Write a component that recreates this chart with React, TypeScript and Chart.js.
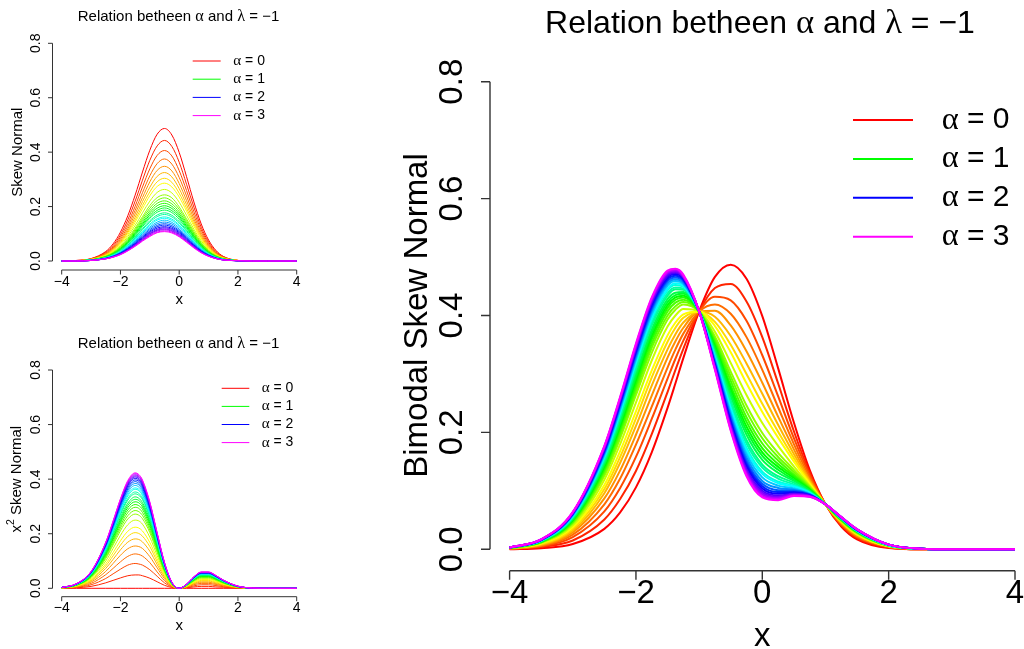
import React, { useEffect, useRef } from "react";
import { Chart, registerables } from "chart.js";

Chart.register(...registerables);

// ---------------- data ----------------
const xValues = [-4, -3.5, -3, -2.5, -2.25, -2, -1.75, -1.5, -1.375, -1.25, -1, -0.75, -0.5, -0.25, 0, 0.25, 0.5, 0.75, 1, 1.25, 1.5, 2, 2.5, 3, 4];

// one curve per value (alpha squared), drawn red -> magenta
const alphaSquared = [0, 0.2, 0.4, 0.6, 0.8, 1.0, 1.2, 1.4, 1.7, 2.0, 2.2, 2.4, 2.6, 2.8, 3.0, 3.2, 3.5, 3.7, 4.0, 4.2, 4.5, 4.8, 5.1, 5.4, 5.7, 6.0, 6.25, 6.5, 6.75, 7.0];

const xTicks = [-4, -2, 0, 2, 4];
const xTickLabels = ["\u22124", "\u22122", "0", "2", "4"];
const yTicks = [0, 0.2, 0.4, 0.6, 0.8];
const yTickLabels = ["0.0", "0.2", "0.4", "0.6", "0.8"];
const legendValues = ["0", "1", "2", "3"];

// top-left panel: "Skew Normal"
const skewNormal = [
  [0, .002, .009, .035, .063, .106, .166, .242, .284, .327, .407, .466, .487, .463, .399, .310, .217, .136, .077, .039, .017, .002, 0, 0, 0],
  [0, .002, .008, .032, .057, .096, .151, .220, .258, .297, .370, .423, .443, .421, .363, .282, .198, .124, .070, .035, .016, .002, 0, 0, 0],
  [0, .001, .007, .029, .052, .088, .138, .201, .237, .272, .339, .388, .406, .386, .332, .259, .181, .114, .064, .032, .014, .002, 0, 0, 0],
  [0, .001, .007, .027, .048, .081, .127, .186, .218, .251, .313, .358, .375, .356, .307, .239, .167, .105, .059, .030, .013, .002, 0, 0, 0],
  [0, .001, .006, .025, .045, .075, .118, .173, .203, .233, .291, .333, .348, .331, .285, .222, .155, .097, .055, .028, .012, .002, 0, 0, 0],
  [0, .001, .006, .023, .042, .070, .110, .161, .189, .218, .271, .311, .325, .309, .266, .207, .145, .091, .051, .026, .012, .002, 0, 0, 0],
  [0, .001, .006, .022, .039, .066, .104, .151, .177, .204, .254, .291, .304, .289, .249, .194, .136, .085, .048, .024, .011, .002, 0, 0, 0],
  [0, .001, .005, .020, .037, .062, .097, .142, .167, .192, .240, .274, .286, .272, .235, .183, .128, .080, .045, .023, .010, .001, 0, 0, 0],
  [0, .001, .005, .019, .034, .057, .090, .131, .153, .177, .220, .252, .263, .250, .216, .168, .117, .074, .042, .021, .009, .001, 0, 0, 0],
  [0, .001, .004, .017, .031, .053, .083, .121, .142, .163, .204, .233, .243, .232, .199, .155, .109, .068, .038, .019, .009, .001, 0, 0, 0],
  [0, .001, .004, .017, .030, .050, .079, .115, .135, .156, .194, .222, .232, .220, .190, .148, .103, .065, .037, .018, .008, .001, 0, 0, 0],
  [0, .001, .004, .016, .029, .048, .075, .110, .129, .149, .185, .212, .221, .210, .181, .141, .099, .062, .035, .018, .008, .001, 0, 0, 0],
  [0, .001, .004, .015, .027, .046, .072, .105, .123, .142, .177, .203, .212, .201, .173, .135, .094, .059, .033, .017, .008, .001, 0, 0, 0],
  [0, .001, .004, .015, .026, .044, .069, .101, .118, .136, .170, .194, .203, .193, .166, .129, .091, .057, .032, .016, .007, .001, 0, 0, 0],
  [0, .001, .004, .014, .025, .042, .066, .097, .114, .131, .163, .186, .195, .185, .160, .124, .087, .055, .031, .015, .007, .001, 0, 0, 0],
  [0, .001, .003, .013, .024, .041, .064, .093, .109, .126, .157, .179, .187, .178, .153, .119, .084, .052, .030, .015, .007, .001, 0, 0, 0],
  [0, .001, .003, .013, .023, .038, .060, .088, .103, .119, .148, .169, .177, .168, .145, .113, .079, .050, .028, .014, .006, .001, 0, 0, 0],
  [0, .001, .003, .012, .022, .037, .058, .085, .100, .115, .143, .163, .171, .162, .140, .109, .076, .048, .027, .014, .006, .001, 0, 0, 0],
  [0, .001, .003, .012, .021, .035, .055, .081, .095, .109, .136, .155, .162, .154, .133, .103, .072, .045, .026, .013, .006, .001, 0, 0, 0],
  [0, .001, .003, .011, .020, .034, .053, .078, .092, .105, .131, .150, .157, .149, .129, .100, .070, .044, .025, .012, .006, .001, 0, 0, 0],
  [0, .001, .003, .011, .019, .032, .051, .074, .087, .101, .125, .143, .150, .142, .123, .095, .067, .042, .024, .012, .005, .001, 0, 0, 0],
  [0, .001, .003, .010, .018, .031, .049, .071, .083, .096, .120, .137, .143, .136, .117, .091, .064, .040, .023, .011, .005, .001, 0, 0, 0],
  [0, 0, .002, .010, .018, .030, .047, .068, .080, .092, .115, .131, .137, .130, .112, .087, .061, .038, .022, .011, .005, .001, 0, 0, 0],
  [0, 0, .002, .009, .017, .029, .045, .065, .077, .088, .110, .126, .132, .125, .108, .084, .059, .037, .021, .010, .005, .001, 0, 0, 0],
  [0, 0, .002, .009, .016, .027, .043, .063, .074, .085, .106, .121, .126, .120, .104, .081, .056, .035, .020, .010, .004, .001, 0, 0, 0],
  [0, 0, .002, .009, .016, .026, .041, .060, .071, .082, .102, .116, .122, .116, .100, .078, .054, .034, .019, .010, .004, .001, 0, 0, 0],
  [0, 0, .002, .008, .015, .026, .040, .059, .069, .079, .099, .113, .118, .112, .097, .075, .053, .033, .019, .009, .004, .001, 0, 0, 0],
  [0, 0, .002, .008, .015, .025, .039, .057, .067, .077, .096, .110, .115, .109, .094, .073, .051, .032, .018, .009, .004, .001, 0, 0, 0],
  [0, 0, .002, .008, .014, .024, .038, .055, .065, .075, .093, .106, .111, .106, .091, .071, .050, .031, .018, .009, .004, .001, 0, 0, 0],
  [0, 0, .002, .008, .014, .023, .037, .054, .063, .073, .090, .104, .108, .103, .089, .069, .048, .030, .017, .009, .004, .001, 0, 0, 0],
];

// bottom-left panel: "x^2 Skew Normal"
const x2SkewNormal = [
  [0, 0, 0, 0, 0, 0, 0, 0, 0, 0, 0, 0, 0, 0, 0, 0, 0, 0, 0, 0, 0, 0, 0, 0, 0],
  [0, .002, .007, .020, .029, .038, .046, .049, .049, .046, .037, .024, .011, .003, 0, .002, .005, .007, .007, .005, .004, .001, 0, 0, 0],
  [.001, .004, .013, .036, .053, .070, .085, .091, .089, .085, .068, .044, .020, .005, 0, .003, .009, .013, .013, .010, .006, .002, 0, 0, 0],
  [.001, .005, .018, .050, .073, .097, .117, .126, .124, .118, .094, .060, .028, .007, 0, .004, .013, .018, .018, .014, .009, .002, 0, 0, 0],
  [.001, .006, .023, .062, .091, .121, .145, .155, .153, .146, .116, .075, .035, .008, 0, .006, .016, .022, .022, .017, .011, .003, 0, 0, 0],
  [.001, .007, .027, .073, .106, .141, .169, .181, .179, .170, .136, .087, .041, .010, 0, .006, .018, .026, .026, .020, .013, .003, 0, 0, 0],
  [.002, .008, .030, .082, .119, .158, .190, .204, .201, .191, .153, .098, .046, .011, 0, .007, .020, .029, .029, .023, .015, .004, .001, 0, 0],
  [.002, .009, .033, .090, .131, .174, .209, .224, .221, .210, .168, .108, .050, .012, 0, .008, .022, .032, .032, .025, .016, .004, .001, 0, 0],
  [.002, .010, .037, .100, .146, .194, .233, .250, .247, .235, .187, .120, .056, .013, 0, .009, .025, .035, .035, .028, .018, .005, .001, 0, 0],
  [.002, .011, .040, .109, .159, .211, .254, .272, .268, .255, .204, .131, .061, .014, 0, .010, .027, .038, .038, .030, .019, .005, .001, 0, 0],
  [.002, .011, .042, .114, .166, .221, .266, .285, .281, .267, .213, .137, .064, .015, 0, .010, .028, .040, .040, .032, .020, .005, .001, 0, 0],
  [.002, .012, .043, .119, .173, .230, .277, .297, .293, .278, .222, .143, .066, .016, 0, .011, .030, .042, .042, .033, .021, .005, .001, 0, 0],
  [.002, .012, .045, .123, .179, .239, .287, .307, .303, .289, .230, .148, .069, .016, 0, .011, .031, .043, .043, .034, .022, .006, .001, 0, 0],
  [.003, .012, .046, .127, .185, .246, .296, .317, .313, .298, .238, .153, .071, .017, 0, .011, .032, .045, .045, .035, .023, .006, .001, 0, 0],
  [.003, .013, .048, .131, .190, .253, .304, .326, .322, .306, .244, .157, .073, .017, 0, .012, .033, .046, .046, .036, .023, .006, .001, 0, 0],
  [.003, .013, .049, .134, .195, .260, .312, .335, .330, .314, .251, .161, .075, .018, 0, .012, .033, .047, .047, .037, .024, .006, .001, 0, 0],
  [.003, .014, .051, .139, .202, .269, .323, .346, .341, .325, .259, .167, .077, .018, 0, .012, .035, .049, .049, .038, .025, .006, .001, 0, 0],
  [.003, .014, .052, .141, .206, .274, .329, .353, .348, .331, .264, .170, .079, .019, 0, .013, .035, .050, .050, .039, .025, .006, .001, 0, 0],
  [.003, .014, .053, .145, .212, .281, .338, .363, .358, .340, .271, .175, .081, .019, 0, .013, .036, .051, .051, .040, .026, .007, .001, 0, 0],
  [.003, .014, .054, .148, .215, .286, .344, .368, .363, .346, .276, .177, .082, .020, 0, .013, .037, .052, .052, .041, .026, .007, .001, 0, 0],
  [.003, .015, .055, .151, .220, .292, .351, .377, .371, .353, .282, .181, .084, .020, 0, .013, .038, .053, .053, .042, .027, .007, .001, 0, 0],
  [.003, .015, .056, .154, .224, .298, .358, .384, .379, .360, .287, .185, .086, .020, 0, .014, .038, .054, .054, .043, .027, .007, .001, 0, 0],
  [.003, .015, .057, .156, .228, .303, .364, .391, .385, .367, .292, .188, .087, .021, 0, .014, .039, .055, .055, .043, .028, .007, .001, 0, 0],
  [.003, .016, .058, .159, .232, .308, .370, .397, .392, .373, .297, .191, .089, .021, 0, .014, .040, .056, .056, .044, .028, .007, .001, 0, 0],
  [.003, .016, .059, .161, .235, .312, .376, .403, .397, .378, .301, .194, .090, .021, 0, .014, .040, .057, .057, .045, .029, .007, .001, 0, 0],
  [.003, .016, .060, .163, .238, .317, .380, .408, .402, .383, .305, .197, .091, .022, 0, .015, .041, .058, .058, .045, .029, .007, .001, 0, 0],
  [.003, .016, .060, .165, .240, .320, .384, .412, .407, .387, .308, .198, .092, .022, 0, .015, .041, .058, .058, .046, .030, .007, .001, 0, 0],
  [.003, .016, .061, .167, .243, .323, .388, .416, .410, .390, .311, .200, .093, .022, 0, .015, .042, .059, .059, .046, .030, .008, .001, 0, 0],
  [.003, .017, .061, .168, .245, .326, .391, .420, .414, .394, .314, .202, .094, .022, 0, .015, .042, .059, .059, .047, .030, .008, .001, 0, 0],
  [.003, .017, .062, .169, .247, .328, .395, .423, .417, .397, .317, .204, .095, .023, 0, .015, .042, .060, .060, .047, .030, .008, .001, 0, 0],
];

// right panel: "Bimodal Skew Normal"
const bimodalSkewNormal = [
  [0, .002, .009, .035, .063, .106, .166, .242, .284, .327, .407, .466, .487, .463, .399, .310, .217, .136, .077, .039, .017, .002, 0, 0, 0],
  [.001, .004, .015, .051, .086, .134, .197, .269, .307, .343, .407, .447, .454, .424, .363, .284, .202, .131, .077, .041, .019, .003, 0, 0, 0],
  [.001, .005, .021, .065, .105, .158, .223, .292, .326, .357, .407, .432, .426, .391, .332, .262, .190, .127, .077, .042, .021, .004, 0, 0, 0],
  [.001, .006, .025, .077, .121, .179, .244, .311, .342, .369, .407, .419, .403, .363, .307, .243, .180, .123, .077, .044, .022, .004, 0, 0, 0],
  [.001, .007, .029, .087, .135, .196, .263, .328, .356, .379, .407, .408, .383, .339, .285, .227, .171, .119, .077, .045, .023, .005, .001, 0, 0],
  [.002, .008, .032, .096, .148, .211, .280, .342, .368, .388, .407, .398, .365, .318, .266, .213, .163, .117, .077, .046, .025, .005, .001, 0, 0],
  [.002, .009, .035, .103, .158, .224, .294, .355, .379, .396, .407, .389, .350, .300, .249, .201, .156, .114, .077, .047, .025, .005, .001, 0, 0],
  [.002, .010, .038, .110, .168, .236, .306, .366, .388, .402, .407, .382, .337, .284, .235, .191, .150, .112, .077, .048, .026, .005, .001, 0, 0],
  [.002, .011, .041, .119, .180, .251, .323, .381, .400, .411, .407, .372, .319, .264, .216, .177, .142, .109, .077, .049, .027, .006, .001, 0, 0],
  [.002, .012, .044, .126, .190, .264, .336, .393, .410, .419, .407, .364, .304, .246, .199, .165, .136, .107, .077, .049, .028, .006, .001, 0, 0],
  [.002, .012, .046, .131, .196, .271, .345, .400, .416, .423, .407, .359, .296, .236, .190, .158, .132, .105, .077, .050, .029, .006, .001, 0, 0],
  [.002, .012, .047, .135, .202, .278, .352, .407, .422, .427, .407, .355, .288, .226, .181, .152, .128, .104, .077, .050, .029, .006, .001, 0, 0],
  [.003, .013, .049, .138, .207, .284, .359, .413, .427, .431, .407, .351, .280, .218, .173, .146, .125, .103, .077, .051, .030, .007, .001, 0, 0],
  [.003, .013, .050, .142, .211, .290, .365, .418, .431, .434, .407, .347, .274, .210, .166, .141, .122, .102, .077, .051, .030, .007, .001, 0, 0],
  [.003, .014, .051, .145, .216, .295, .371, .423, .435, .437, .407, .344, .268, .203, .160, .136, .119, .101, .077, .052, .030, .007, .001, 0, 0],
  [.003, .014, .052, .147, .219, .300, .376, .428, .439, .440, .407, .340, .262, .196, .153, .131, .117, .100, .077, .052, .031, .007, .001, 0, 0],
  [.003, .014, .054, .151, .225, .307, .383, .434, .445, .444, .407, .336, .255, .187, .145, .125, .114, .098, .077, .052, .031, .007, .001, 0, 0],
  [.003, .015, .055, .154, .228, .311, .387, .438, .448, .446, .407, .334, .250, .181, .140, .121, .111, .098, .077, .053, .031, .007, .001, 0, 0],
  [.003, .015, .056, .157, .233, .317, .393, .443, .452, .449, .407, .330, .243, .174, .133, .116, .109, .097, .077, .053, .032, .007, .001, 0, 0],
  [.003, .015, .057, .159, .235, .320, .397, .446, .455, .451, .407, .328, .240, .169, .129, .113, .107, .096, .077, .053, .032, .007, .001, 0, 0],
  [.003, .015, .058, .161, .239, .325, .402, .451, .459, .454, .407, .325, .234, .163, .123, .109, .104, .095, .077, .054, .032, .008, .001, 0, 0],
  [.003, .016, .059, .164, .243, .329, .407, .455, .462, .456, .407, .322, .229, .157, .117, .105, .102, .094, .077, .054, .033, .008, .001, 0, 0],
  [.003, .016, .060, .166, .246, .333, .411, .459, .465, .459, .407, .319, .225, .151, .112, .101, .100, .094, .077, .054, .033, .008, .001, 0, 0],
  [.003, .016, .061, .168, .249, .337, .415, .462, .468, .461, .407, .317, .220, .146, .108, .098, .098, .093, .077, .054, .033, .008, .001, 0, 0],
  [.003, .016, .061, .170, .251, .340, .419, .465, .471, .463, .407, .315, .217, .142, .104, .095, .097, .092, .077, .055, .033, .008, .001, 0, 0],
  [.003, .016, .062, .172, .254, .343, .422, .468, .473, .465, .407, .313, .213, .137, .100, .092, .095, .092, .077, .055, .034, .008, .001, 0, 0],
  [.003, .017, .063, .173, .256, .345, .424, .471, .475, .466, .407, .311, .210, .134, .097, .090, .094, .091, .077, .055, .034, .008, .001, 0, 0],
  [.003, .017, .063, .175, .258, .348, .427, .473, .477, .467, .407, .310, .208, .131, .094, .088, .093, .091, .077, .055, .034, .008, .001, 0, 0],
  [.003, .017, .063, .176, .259, .350, .429, .475, .479, .468, .407, .309, .205, .128, .091, .086, .092, .090, .077, .055, .034, .008, .001, 0, 0],
  [.003, .017, .064, .177, .261, .352, .431, .477, .480, .470, .407, .307, .203, .125, .089, .084, .091, .090, .077, .055, .034, .008, .001, 0, 0],
];

// ---------------- drawing helpers ----------------
const W = 1024;
const H = 649;
const SANS = '"Liberation Sans", Arial, Helvetica, sans-serif';
const SERIF = '"Liberation Serif", "DejaVu Serif", serif';
const LEGEND_COLORS = ["#ff0000", "#00ff00", "#0000ff", "#ff00ff"];

type Run = { t: string; size: number; serif?: boolean; dy?: number };

function drawRuns(
  ctx: CanvasRenderingContext2D,
  list: Run[],
  x: number,
  y: number,
  opts: { rotate?: boolean; align?: "center" | "left" } = {}
) {
  ctx.save();
  ctx.translate(x, y);
  if (opts.rotate) ctx.rotate(-Math.PI / 2);
  ctx.textBaseline = "middle";
  ctx.textAlign = "left";
  ctx.fillStyle = "#000";
  const widths = list.map((r) => {
    ctx.font = `${r.size}px ${r.serif ? SERIF : SANS}`;
    return ctx.measureText(r.t).width;
  });
  const total = widths.reduce((a, b) => a + b, 0);
  let cx = opts.align === "left" ? 0 : -total / 2;
  list.forEach((r, i) => {
    ctx.font = `${r.size}px ${r.serif ? SERIF : SANS}`;
    ctx.fillText(r.t, cx, r.dy || 0);
    cx += widths[i];
  });
  ctx.restore();
}

const titleRuns = (s: number): Run[] => [
  { t: "Relation betheen ", size: s },
  { t: "\u03b1", size: s * 1.08, serif: true },
  { t: " and ", size: s },
  { t: "\u03bb", size: s * 1.08, serif: true },
  { t: " = \u22121", size: s },
];

type PanelSpec = {
  rows: number[][];
  area: { left: number; right: number; top: number; bottom: number };
  xAxisY: number;
  yAxisX: number;
  tickLen: number;
  axisWidth: number;
  tickSize: number;
  xTickLabelY: number;
  yTickLabelX: number;
  labelSize: number;
  xLabelY: number;
  yLabelX: number;
  yLabel: (s: number) => Run[];
  titleSize: number;
  titleX: number;
  titleY: number;
  legendX1: number;
  legendX2: number;
  legendTextX: number;
  legendY0: number;
  legendDy: number;
  legendSize: number;
  legendLineWidth: number;
  curveWidth: number;
};

const panels: PanelSpec[] = [
  {
    rows: skewNormal,
    area: { left: 61.7, right: 296.7, top: 43.3, bottom: 261 },
    xAxisY: 270,
    yAxisX: 52.5,
    tickLen: 4.5,
    axisWidth: 1,
    tickSize: 14,
    xTickLabelY: 282,
    yTickLabelX: 36.5,
    labelSize: 15,
    xLabelY: 299.5,
    yLabelX: 18.3,
    yLabel: (s) => [{ t: "Skew Normal", size: s }],
    titleSize: 15,
    titleX: 178.5,
    titleY: 16.5,
    legendX1: 192.7,
    legendX2: 220.7,
    legendTextX: 233.3,
    legendY0: 61,
    legendDy: 18.2,
    legendSize: 14,
    legendLineWidth: 1,
    curveWidth: 1,
  },
  {
    rows: x2SkewNormal,
    area: { left: 61.7, right: 296.7, top: 370, bottom: 588.3 },
    xAxisY: 596.7,
    yAxisX: 52.5,
    tickLen: 4.5,
    axisWidth: 1,
    tickSize: 14,
    xTickLabelY: 608.5,
    yTickLabelX: 36.5,
    labelSize: 15,
    xLabelY: 626,
    yLabelX: 17,
    yLabel: (s) => [
      { t: "x", size: s },
      { t: "2", size: s * 0.7, dy: -s * 0.4 },
      { t: " Skew Normal", size: s },
    ],
    titleSize: 15,
    titleX: 178.5,
    titleY: 343.8,
    legendX1: 221.7,
    legendX2: 249.3,
    legendTextX: 261.7,
    legendY0: 388.3,
    legendDy: 18.1,
    legendSize: 14,
    legendLineWidth: 1,
    curveWidth: 1,
  },
  {
    rows: bimodalSkewNormal,
    area: { left: 509.6, right: 1015, top: 81.7, bottom: 549.3 },
    xAxisY: 570.7,
    yAxisX: 490,
    tickLen: 9,
    axisWidth: 1.4,
    tickSize: 33,
    xTickLabelY: 594,
    yTickLabelX: 453,
    labelSize: 33,
    xLabelY: 637,
    yLabelX: 417.5,
    yLabel: (s) => [{ t: "Bimodal Skew Normal", size: s }],
    titleSize: 32,
    titleX: 760,
    titleY: 24,
    legendX1: 853,
    legendX2: 913,
    legendTextX: 941.7,
    legendY0: 120,
    legendDy: 38.9,
    legendSize: 30,
    legendLineWidth: 2,
    curveWidth: 2,
  },
];

function makePlugin(p: PanelSpec) {
  return {
    id: "rStyleDecor",
    afterDraw(chart: any) {
      const ctx: CanvasRenderingContext2D = chart.ctx;
      const xs = chart.scales.x;
      const ys = chart.scales.y;
      ctx.save();
      ctx.strokeStyle = "#333";
      ctx.lineWidth = p.axisWidth;
      const xa = xs.getPixelForValue(xTicks[0]);
      const xb = xs.getPixelForValue(xTicks[xTicks.length - 1]);
      ctx.beginPath();
      ctx.moveTo(xa, p.xAxisY);
      ctx.lineTo(xb, p.xAxisY);
      xTicks.forEach((t) => {
        const px = xs.getPixelForValue(t);
        ctx.moveTo(px, p.xAxisY);
        ctx.lineTo(px, p.xAxisY + p.tickLen);
      });
      const ya = ys.getPixelForValue(yTicks[0]);
      const yb = ys.getPixelForValue(yTicks[yTicks.length - 1]);
      ctx.moveTo(p.yAxisX, ya);
      ctx.lineTo(p.yAxisX, yb);
      yTicks.forEach((t) => {
        const py = ys.getPixelForValue(t);
        ctx.moveTo(p.yAxisX, py);
        ctx.lineTo(p.yAxisX - p.tickLen, py);
      });
      ctx.stroke();

      xTicks.forEach((t, i) =>
        drawRuns(ctx, [{ t: xTickLabels[i], size: p.tickSize }], xs.getPixelForValue(t), p.xTickLabelY)
      );
      yTicks.forEach((t, i) =>
        drawRuns(ctx, [{ t: yTickLabels[i], size: p.tickSize }], p.yTickLabelX, ys.getPixelForValue(t), {
          rotate: true,
        })
      );
      drawRuns(ctx, [{ t: "x", size: p.labelSize }], (xa + xb) / 2, p.xLabelY);
      drawRuns(ctx, p.yLabel(p.labelSize), p.yLabelX, (ya + yb) / 2, { rotate: true });
      drawRuns(ctx, titleRuns(p.titleSize), p.titleX, p.titleY);

      legendValues.forEach((v, i) => {
        const y = p.legendY0 + i * p.legendDy;
        ctx.strokeStyle = LEGEND_COLORS[i];
        ctx.lineWidth = p.legendLineWidth;
        ctx.beginPath();
        ctx.moveTo(p.legendX1, y);
        ctx.lineTo(p.legendX2, y);
        ctx.stroke();
        drawRuns(
          ctx,
          [
            { t: "\u03b1", size: p.legendSize * 1.08, serif: true },
            { t: " = " + v, size: p.legendSize },
          ],
          p.legendTextX,
          y,
          { align: "left" }
        );
      });
      ctx.restore();
    },
  };
}

function PanelChart({ spec }: { spec: PanelSpec }) {
  const ref = useRef<HTMLCanvasElement | null>(null);
  useEffect(() => {
    if (!ref.current) return;
    const n = spec.rows.length;
    const maxK = alphaSquared[alphaSquared.length - 1];
    const datasets = spec.rows.map((row, i) => ({
      data: row.map((y, j) => ({ x: xValues[j], y })),
      borderColor: `hsl(${(alphaSquared[i] / maxK) * 300}, 100%, 50%)`,
      borderWidth: spec.curveWidth,
      pointRadius: 0,
      fill: false,
      cubicInterpolationMode: "monotone" as const,
      clip: false as any,
      order: n - 1 - i,
    }));
    const chart = new Chart(ref.current, {
      type: "line",
      data: { datasets },
      options: {
        animation: false,
        responsive: false,
        maintainAspectRatio: false,
        devicePixelRatio: 1,
        events: [],
        layout: {
          padding: {
            left: spec.area.left,
            right: W - spec.area.right,
            top: spec.area.top,
            bottom: H - spec.area.bottom,
          },
        },
        scales: {
          x: { type: "linear", min: -4, max: 4, display: false },
          y: { type: "linear", min: 0, max: 0.8, display: false },
        },
        plugins: {
          legend: { display: false },
          title: { display: false },
          tooltip: { enabled: false },
        },
      },
      plugins: [makePlugin(spec)],
    });
    return () => chart.destroy();
  }, [spec]);
  return (
    <canvas
      ref={ref}
      width={W}
      height={H}
      style={{ position: "absolute", left: 0, top: 0, width: W, height: H }}
    />
  );
}

export default function App() {
  return (
    <div
      style={{
        position: "fixed",
        left: 0,
        top: 0,
        width: W,
        height: H,
        background: "#ffffff",
        overflow: "hidden",
      }}
    >
      {panels.map((p, i) => (
        <PanelChart key={i} spec={p} />
      ))}
    </div>
  );
}
